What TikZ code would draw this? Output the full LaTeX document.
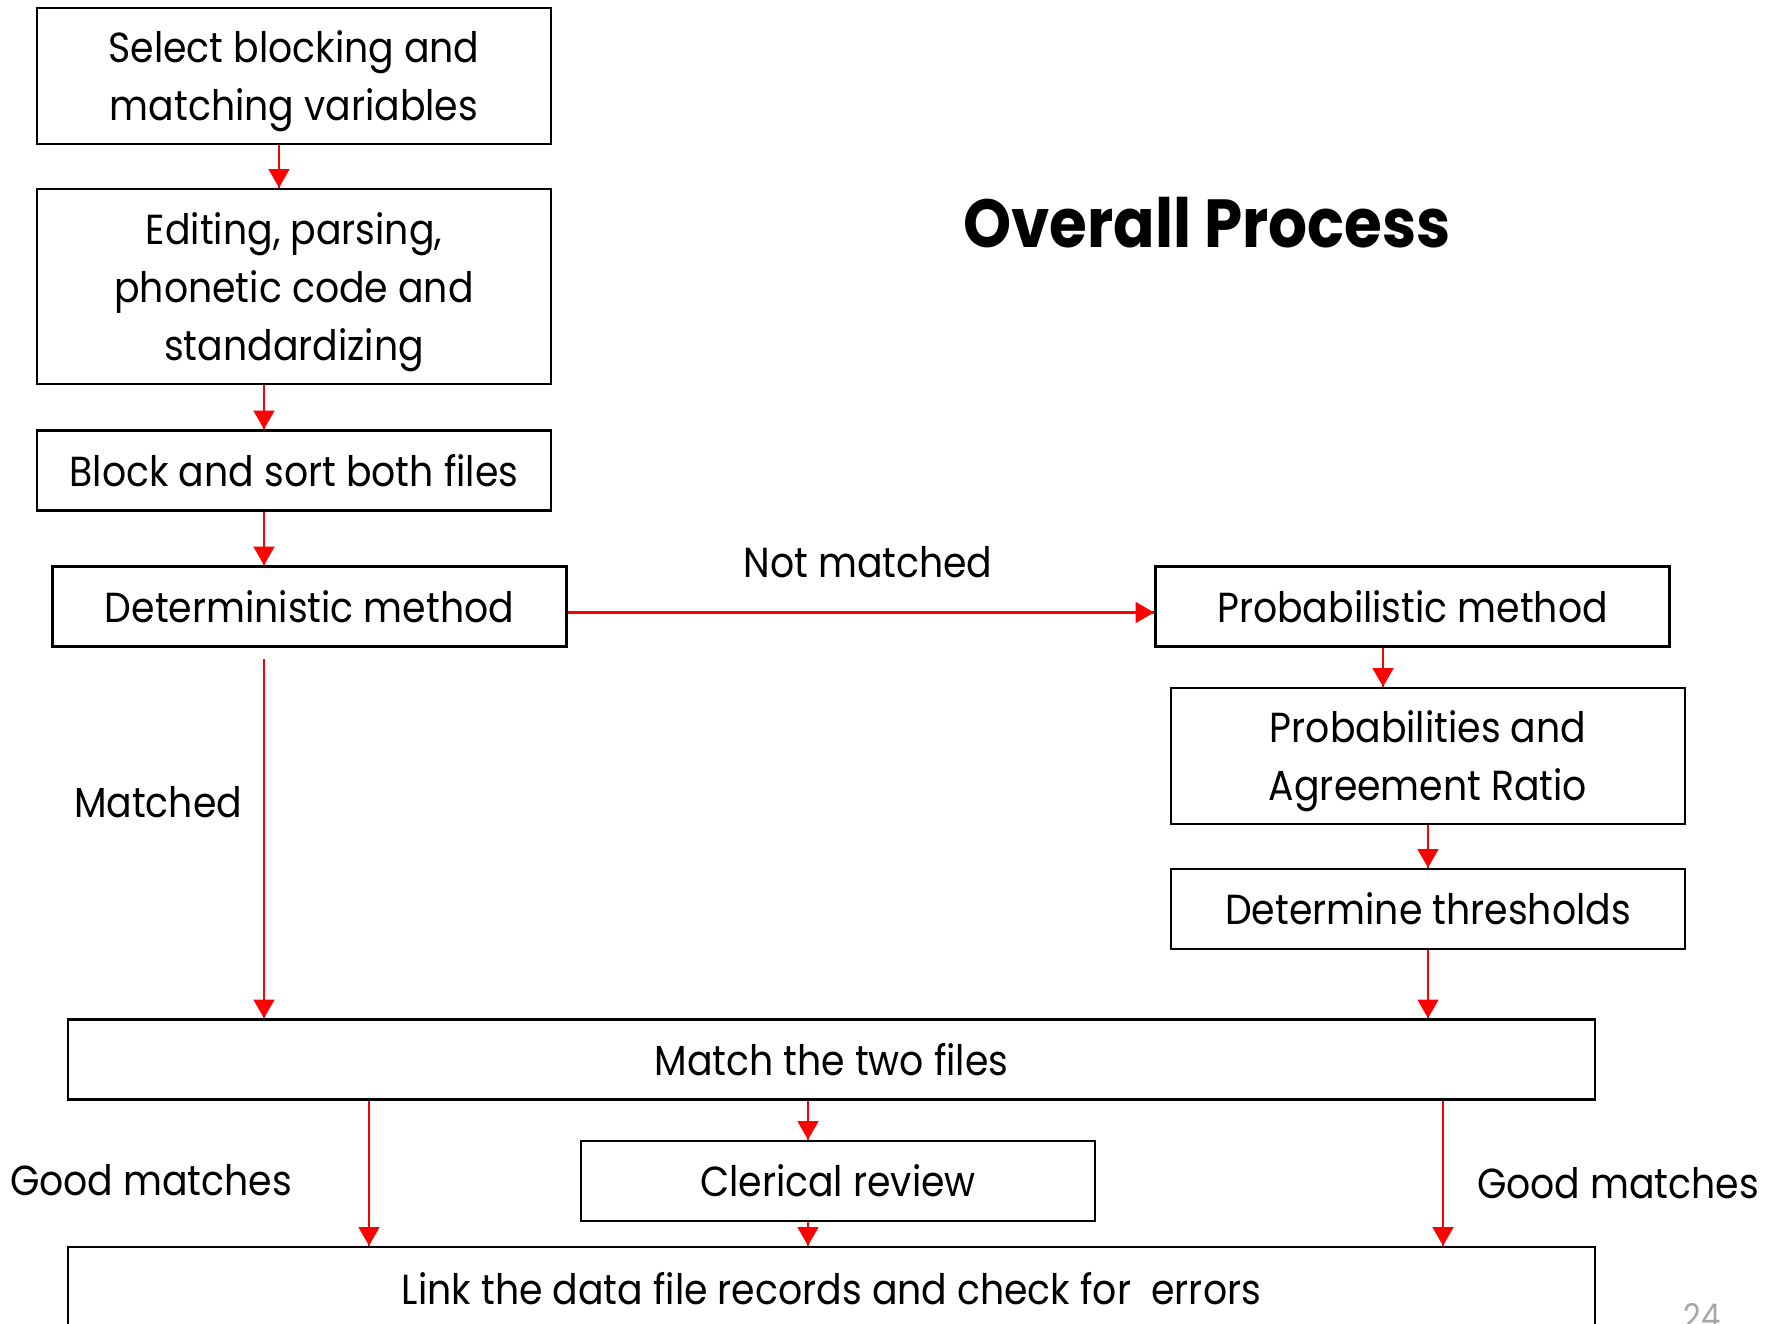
\documentclass[tikz,border=0pt]{standalone}
\usepackage{fontspec}
\setmainfont[FakeStretch=0.9]{Poppins}
\usetikzlibrary{arrows}
\usetikzlibrary{decorations.markings}
\tikzset{flow/.style = {red, line width=1.3pt,
                        decoration={markings,
                                    mark=at position 1 with {\arrow[scale=1.1]{triangle 60}}},
                        postaction={decorate}}}
\tikzset{box/.style = {draw, line width=1.4pt, inner sep=0, align=center,
                       minimum width=257pt, minimum height=40pt,
                       font=\fontsize{21}{29}\selectfont}}
\tikzset{lbl/.style = {font=\fontsize{21}{29}\selectfont}}

\begin{document}
\begin{tikzpicture}[x=0.5pt, y=-0.5pt]
          \useasboundingbox (0, 0) rectangle (1777, 1323);
          \clip (0, 0) rectangle (1777, 1323);
          % left column
          \node [box, minimum height=68pt, text depth=0pt] (select) at (294, 76) {Select blocking and\\matching variables};
          \node [box, minimum height=97.5pt, text depth=0pt] (edit) at (294, 286.5) {Editing, parsing,\\phonetic code and\\standardizing};
          \node [box] (block) at (294, 470.5) {Block and sort both files};
          \node [box] (det) at (309.5, 606.5) {Deterministic method};
          % right column
          \node [box] (prob) at (1412.5, 606.5) {Probabilistic method};
          \node [box, minimum height=68pt, text depth=0pt] (agree) at (1428, 756) {Probabilities and\\Agreement Ratio};
          \node [box] (thresh) at (1428, 909) {Determine thresholds};
          % bottom
          \node [box, minimum width=763.5pt] (match) at (831.5, 1059.5) {Match the two files};
          \node [box] (clerical) at (838, 1181) {Clerical review};
          \node [box, minimum width=763.5pt, minimum height=42pt] (link) at (831.5, 1289) {Link the data file records and check for\ \ errors};
          % labels
          \node [font=\fontsize{34}{40}\selectfont\bfseries] (title) at (1207, 223) {Overall Process};
          \node [lbl] (notm) at (868, 562) {Not matched};
          \node [lbl] (m) at (158, 802) {Matched};
          \node [lbl] (goodl) at (151, 1180) {Good matches};
          \node [lbl] (goodr) at (1618, 1183) {Good matches};
          \node [anchor=north, text=black!35, font=\fontsize{17}{20}\selectfont, inner sep=0] (page) at (1702, 1303) {24};
          % arrows
          \draw [flow] ([xshift=-7.5pt]select.south) -- ([xshift=-7.5pt]edit.north);
          \draw [flow] ([xshift=-15pt]edit.south) -- ([xshift=-15pt]block.north);
          \draw [flow] ([xshift=-15pt]block.south) -- ([xshift=-15pt]block.south |- det.north);
          \draw [flow] ([xshift=-22.75pt, yshift=-5.5pt]det.south) -- ([xshift=-22.75pt]det.south |- match.north);
          \draw [flow] ([yshift=-3pt]det.east) -- ([yshift=-3pt]prob.west);
          \draw [flow] ([xshift=-14.75pt]prob.south) -- ([xshift=-14.75pt]prob.south |- agree.north);
          \draw [flow] (agree.south) -- (thresh.north);
          \draw [flow] (thresh.south) -- (thresh.south |- match.north);
          \draw [flow] ([xshift=-231.25pt]match.south) -- ([xshift=-231.25pt]link.north);
          \draw [flow] ([xshift=-11.75pt]match.south) -- ([xshift=-11.75pt]match.south |- clerical.north);
          \draw [flow] ([xshift=-11.75pt]match.south |- clerical.south) -- ([xshift=-11.75pt]link.north);
          \draw [flow] ([xshift=305.75pt]match.south) -- ([xshift=305.75pt]link.north);
        \end{tikzpicture}
\end{document}
